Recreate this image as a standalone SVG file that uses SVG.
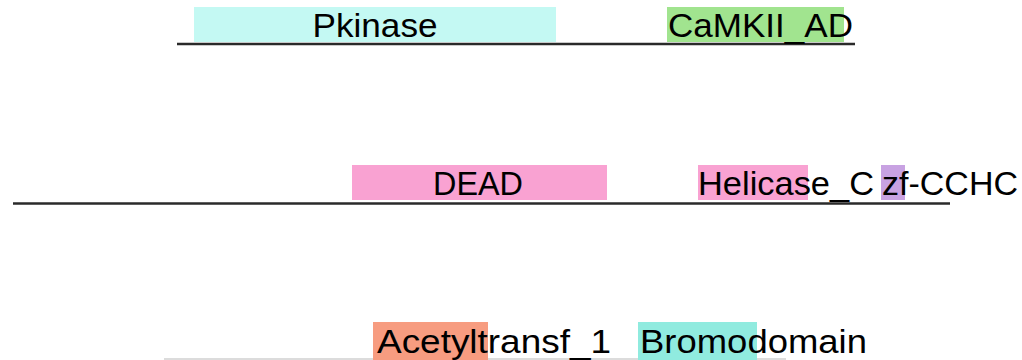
<svg xmlns="http://www.w3.org/2000/svg" width="1022" height="360" viewBox="0 0 1022 360">
<style>
.bb{stroke:#2a2a2a;stroke-width:2.5;fill:none}
.bb3{stroke:#dcdcdc;stroke-width:2;fill:none}
.lbl{font-family:"Liberation Sans",Arial,sans-serif;font-size:33px;fill:#000}
</style>
<rect width="1022" height="360" fill="#fff"/>
<g id="connectors">
<line class="bb" x1="177" y1="44" x2="855" y2="44"/>
<line class="bb" x1="13" y1="203.5" x2="950" y2="203.5"/>
<line class="bb3" x1="164" y1="359" x2="786" y2="359"/>
</g>
<g id="pkinase">
<rect x="194" y="7" width="362" height="35" fill="#c4f9f3"/>
<text class="lbl" x="375" y="37" text-anchor="middle" textLength="125" lengthAdjust="spacingAndGlyphs">Pkinase</text>
</g>
<g id="camkii_ad">
<rect x="667" y="7" width="177" height="35" fill="#a1e48f"/>
<text class="lbl" x="668" y="37" textLength="185" lengthAdjust="spacingAndGlyphs">CaMKII_AD</text>
</g>
<g id="dead">
<rect x="352" y="165" width="255" height="35" fill="#f9a2d2"/>
<text class="lbl" x="478" y="195" text-anchor="middle" textLength="90" lengthAdjust="spacingAndGlyphs">DEAD</text>
</g>
<g id="helicase_c">
<rect x="698" y="165" width="110" height="35" fill="#f9a2d2"/>
<text class="lbl" x="698" y="195" textLength="176" lengthAdjust="spacingAndGlyphs">Helicase_C</text>
</g>
<g id="zf_cchc">
<rect x="881" y="165" width="24" height="35" fill="#c8a2e2"/>
<text class="lbl" x="882" y="195" textLength="136" lengthAdjust="spacingAndGlyphs">zf-CCHC</text>
</g>
<g id="acetyltransf_1">
<rect x="373" y="322" width="115" height="38" fill="#f79c80"/>
<text class="lbl" x="377" y="353" textLength="234" lengthAdjust="spacingAndGlyphs">Acetyltransf_1</text>
</g>
<g id="bromodomain">
<rect x="638" y="322" width="119" height="38" fill="#90ebdf"/>
<text class="lbl" x="640" y="353" textLength="227" lengthAdjust="spacingAndGlyphs">Bromodomain</text>
</g>
</svg>
